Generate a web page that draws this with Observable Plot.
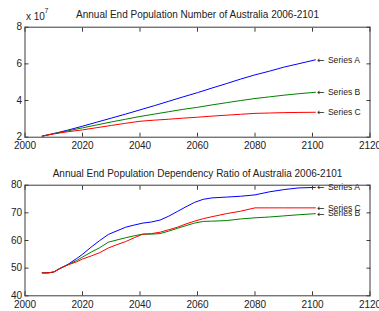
<!DOCTYPE html>
<html>
<head>
<meta charset="utf-8">
<script src="https://cdn.jsdelivr.net/npm/d3@7"></script>
<script src="https://cdn.jsdelivr.net/npm/@observablehq/plot@0.6"></script>
<style>
  html, body { margin: 0; padding: 0; background: #fff; }
  #wrap { position: relative; width: 379px; height: 311px; overflow: hidden; background: #fff; }
  #wrap svg { position: absolute; left: 0; background: transparent; }
</style>
</head>
<body>
<div id="wrap"></div>
<script>
const seriesNames = ["Series A", "Series B", "Series C"];
const seriesColors = ["#0000ff", "#008000", "#ff0000"];
const xTicks = [2000, 2020, 2040, 2060, 2080, 2100, 2120];

// Population (units of 10^7)
const popYears = [2006, 2010, 2015, 2020, 2025, 2030, 2035, 2040, 2045, 2050, 2055, 2060, 2065, 2070, 2075, 2080, 2085, 2090, 2095, 2101];
const popA = [2.06, 2.20, 2.39, 2.60, 2.82, 3.04, 3.26, 3.49, 3.72, 3.96, 4.20, 4.43, 4.68, 4.92, 5.17, 5.40, 5.60, 5.82, 6.00, 6.22];
const popB = [2.06, 2.19, 2.35, 2.51, 2.67, 2.83, 2.98, 3.13, 3.26, 3.39, 3.52, 3.63, 3.76, 3.88, 4.00, 4.11, 4.20, 4.29, 4.37, 4.45];
const popC = [2.06, 2.18, 2.30, 2.40, 2.52, 2.64, 2.76, 2.87, 2.93, 2.98, 3.04, 3.09, 3.15, 3.20, 3.25, 3.30, 3.32, 3.34, 3.35, 3.36];
const popTicks = [2, 4, 6, 8];

// Dependency ratio
const depYears = [2006, 2008, 2010, 2012, 2015, 2018, 2020, 2023, 2026, 2029, 2032, 2035, 2038, 2041, 2044, 2047, 2050, 2053, 2056, 2059, 2062, 2065, 2070, 2075, 2080, 2085, 2090, 2095, 2101];
const depA = [48.3, 48.3, 48.6, 49.8, 51.4, 53.5, 55.0, 57.6, 60.0, 62.2, 63.5, 64.8, 65.6, 66.3, 66.7, 67.4, 68.8, 70.5, 72.2, 73.8, 74.9, 75.4, 75.7, 76.0, 76.5, 77.6, 78.4, 79.0, 79.2];
const depB = [48.3, 48.3, 48.6, 49.8, 51.3, 52.8, 54.0, 55.8, 57.4, 59.4, 60.2, 61.0, 61.7, 62.3, 62.3, 62.5, 63.4, 64.4, 65.4, 66.3, 66.9, 67.0, 67.2, 67.8, 68.2, 68.5, 68.9, 69.3, 69.7];
const depC = [48.3, 48.3, 48.6, 49.8, 51.2, 52.3, 53.3, 54.4, 55.6, 57.3, 58.5, 59.6, 61.0, 62.3, 62.5, 63.0, 63.9, 64.8, 66.0, 67.0, 67.9, 68.6, 69.7, 70.6, 71.8, 71.8, 71.8, 71.8, 71.8];
const depTicks = [40, 50, 60, 70, 80];

const titleTop = "Annual End Population Number of Australia 2006-2101";
const titleBottom = "Annual End Population Dependency Ratio of Australia 2006-2101";

function rows(years, arrs) {
  const out = [];
  arrs.forEach((arr, i) => arr.forEach((v, j) => out.push({year: years[j], value: v, series: seriesNames[i]})));
  return out;
}

const FONT = "'Liberation Sans', Arial, Helvetica, sans-serif";
const AXC = "#3c3c3c";

function panel({data, yDomain, yTicks, height, marginTop, marginBottom, title, titleDy, extra}) {
  return Plot.plot({
    width: 379,
    height,
    marginTop,
    marginBottom,
    marginLeft: 24.5,
    marginRight: 9.5,
    style: {fontFamily: FONT, fontSize: "10px", color: "#222", background: "transparent", overflow: "visible"},
    x: {domain: [2000, 2120], ticks: xTicks, tickFormat: d => String(d)},
    y: {domain: yDomain, ticks: yTicks, tickFormat: d => String(d)},
    color: {domain: seriesNames, range: seriesColors},
    marks: [
      Plot.line(data, {x: "year", y: "value", z: "series", stroke: "series", strokeWidth: 1}),
      Plot.text(data, Plot.selectLast({x: "year", y: "value", z: "series", text: () => "\u2190", textAnchor: "start", dx: 1.5, fontSize: 9, fontFamily: "'DejaVu Sans', sans-serif", fill: "#222"})),
      Plot.text(data, Plot.selectLast({x: "year", y: "value", z: "series", text: "series", textAnchor: "start", dx: 12.5, fontSize: 8.6, fill: "#222"})),
      Plot.frame({stroke: AXC, strokeWidth: 1}),
      Plot.axisX({anchor: "bottom", ticks: xTicks, tickSize: 0, tickPadding: 5, tickFormat: d => String(d), label: null, fill: "#222"}),
      Plot.axisX({anchor: "bottom", ticks: xTicks, tickSize: 4, dy: -4, text: null, label: null, stroke: AXC}),
      Plot.axisX({anchor: "top", ticks: xTicks, tickSize: 4, dy: 4, text: null, label: null, stroke: AXC}),
      Plot.axisY({anchor: "left", ticks: yTicks, tickSize: 0, tickPadding: 3, tickFormat: d => String(d), label: null, fill: "#222"}),
      Plot.axisY({anchor: "left", ticks: yTicks, tickSize: 4, dx: 4, text: null, label: null, stroke: AXC}),
      Plot.axisY({anchor: "right", ticks: yTicks, tickSize: 4, dx: -4, text: null, label: null, stroke: AXC}),
      Plot.text([title], {frameAnchor: "top", dy: titleDy, lineAnchor: "middle", fontSize: 10, fill: "#222"}),
      ...(extra || [])
    ]
  });
}

const topPanel = panel({
  data: rows(popYears, [popA, popB, popC]),
  yDomain: [2, 8], yTicks: popTicks,
  height: 150, marginTop: 26.7, marginBottom: 13.3,
  title: titleTop, titleDy: -12,
  extra: [
    Plot.text(["x 10"], {frameAnchor: "top-left", textAnchor: "start", lineAnchor: "middle", dx: 1, dy: -10, fontSize: 10, fill: "#222"}),
    Plot.text(["7"], {frameAnchor: "top-left", textAnchor: "start", lineAnchor: "middle", dx: 19.5, dy: -16, fontSize: 7, fill: "#222"})
  ]
});
topPanel.style.top = "0px";

const bottomPanel = panel({
  data: rows(depYears, [depA, depB, depC]),
  yDomain: [40, 80], yTicks: depTicks,
  height: 161, marginTop: 34.7, marginBottom: 15.7,
  title: titleBottom, titleDy: -11.4
});
bottomPanel.style.top = "150px";

const wrap = document.getElementById("wrap");
wrap.appendChild(topPanel);
wrap.appendChild(bottomPanel);
</script>
</body>
</html>
